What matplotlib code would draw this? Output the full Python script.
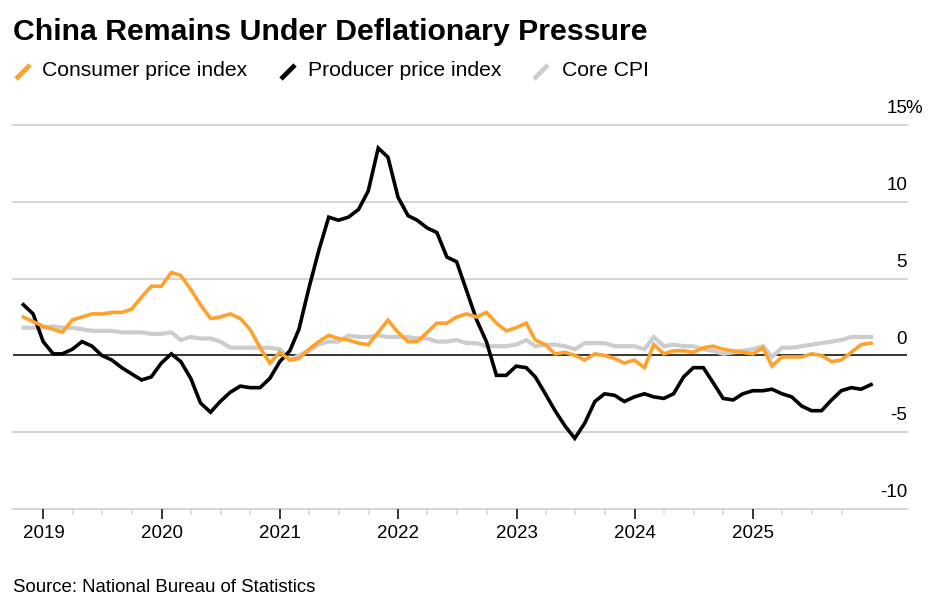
import matplotlib
matplotlib.use("Agg")
import matplotlib.pyplot as plt
import matplotlib.dates as mdates
import matplotlib.transforms as mtransforms
from matplotlib.lines import Line2D
from matplotlib.ticker import FixedLocator
import pandas as pd
import datetime as dt

plt.rcParams['font.family'] = ['Liberation Sans', 'DejaVu Sans']

# ---- data (monthly, Oct 2018 - Dec 2025, YoY %) ----
start_month = "2018-10"

cpi = [2.5, 2.2, 1.9,
       1.7, 1.5, 2.3, 2.5, 2.7, 2.7, 2.8, 2.8, 3.0, 3.8, 4.5, 4.5,
       5.4, 5.2, 4.3, 3.3, 2.4, 2.5, 2.7, 2.4, 1.7, 0.5, -0.5, 0.2,
       -0.3, -0.2, 0.4, 0.9, 1.3, 1.1, 1.0, 0.8, 0.7, 1.5, 2.3, 1.5,
       0.9, 0.9, 1.5, 2.1, 2.1, 2.5, 2.7, 2.5, 2.8, 2.1, 1.6, 1.8,
       2.1, 1.0, 0.7, 0.1, 0.2, 0.0, -0.3, 0.1, 0.0, -0.2, -0.5, -0.3,
       -0.8, 0.7, 0.1, 0.3, 0.3, 0.2, 0.5, 0.6, 0.4, 0.3, 0.2, 0.1,
       0.5, -0.7, -0.1, -0.1, -0.1, 0.1, 0.0, -0.4, -0.3, 0.2, 0.7, 0.8]

ppi = [3.3, 2.7, 0.9,
       0.1, 0.1, 0.4, 0.9, 0.6, 0.0, -0.3, -0.8, -1.2, -1.6, -1.4, -0.5,
       0.1, -0.4, -1.5, -3.1, -3.7, -3.0, -2.4, -2.0, -2.1, -2.1, -1.5, -0.4,
       0.3, 1.7, 4.4, 6.8, 9.0, 8.8, 9.0, 9.5, 10.7, 13.5, 12.9, 10.3,
       9.1, 8.8, 8.3, 8.0, 6.4, 6.1, 4.2, 2.3, 0.9, -1.3, -1.3, -0.7,
       -0.8, -1.4, -2.5, -3.6, -4.6, -5.4, -4.4, -3.0, -2.5, -2.6, -3.0, -2.7,
       -2.5, -2.7, -2.8, -2.5, -1.4, -0.8, -0.8, -1.8, -2.8, -2.9, -2.5, -2.3,
       -2.3, -2.2, -2.5, -2.7, -3.3, -3.6, -3.6, -2.9, -2.3, -2.1, -2.2, -1.9]

core_cpi = [1.8, 1.8, 1.8,
            1.9, 1.8, 1.8, 1.7, 1.6, 1.6, 1.6, 1.5, 1.5, 1.5, 1.4, 1.4,
            1.5, 1.0, 1.2, 1.1, 1.1, 0.9, 0.5, 0.5, 0.5, 0.5, 0.5, 0.4,
            -0.3, 0.0, 0.3, 0.7, 0.9, 0.9, 1.3, 1.2, 1.2, 1.3, 1.2, 1.2,
            1.2, 1.1, 1.1, 0.9, 0.9, 1.0, 0.8, 0.8, 0.6, 0.6, 0.6, 0.7,
            1.0, 0.6, 0.7, 0.7, 0.6, 0.4, 0.8, 0.8, 0.8, 0.6, 0.6, 0.6,
            0.4, 1.2, 0.6, 0.7, 0.6, 0.6, 0.4, 0.3, 0.1, 0.2, 0.3, 0.4,
            0.6, -0.1, 0.5, 0.5, 0.6, 0.7, 0.8, 0.9, 1.0, 1.2, 1.2, 1.2]

series_names = ["Consumer price index", "Producer price index", "Core CPI"]
y_ticks = [15, 10, 5, 0, -5, -10]
year_ticks = [2019, 2020, 2021, 2022, 2023, 2024, 2025]

dates = pd.date_range(start=start_month, periods=len(cpi), freq="ME")

# ---- styling ----
ORANGE = "#FFA12B"
BLACK = "#000000"
GRAY = "#CCCCCC"
GRID = "#D4D4D4"

W, H = 951, 609
fig = plt.figure(figsize=(W / 100, H / 100), dpi=100)

def px_x(x):
    return x / W

def px_y(y):
    return 1 - y / H

ax_left, ax_right, ax_top, ax_bottom = 12.7, 907, 125, 509
ax = fig.add_axes([px_x(ax_left), px_y(ax_bottom),
                   (ax_right - ax_left) / W, (ax_bottom - ax_top) / H])

for s in ax.spines.values():
    s.set_visible(False)

# gridlines
for v in y_ticks:
    if v == 0:
        continue
    ax.axhline(v, color=GRID, lw=1.4, zorder=1, clip_on=False)
ax.axhline(0, color=BLACK, lw=1.1, zorder=2)

ax.plot(dates, core_cpi, color=GRAY, lw=3.0, zorder=3, solid_joinstyle='miter')
ax.plot(dates, ppi, color=BLACK, lw=2.6, zorder=4, solid_joinstyle='miter')
ax.plot(dates, cpi, color=ORANGE, lw=2.6, zorder=5, solid_joinstyle='miter')

ax.set_ylim(-10, 15)
ax.set_xlim(mdates.date2num(dt.datetime(2018, 9, 28)),
            mdates.date2num(dt.datetime(2026, 4, 21)))

# x ticks
ax.set_xticks([mdates.date2num(dt.datetime(y, 1, 1)) for y in year_ticks])
ax.set_xticklabels([str(y) for y in year_ticks])
minor_locs = [mdates.date2num(dt.datetime(y, m, 1))
              for y in year_ticks for m in (4, 7, 10)]
ax.xaxis.set_minor_locator(FixedLocator(minor_locs))
ax.tick_params(axis='x', which='major', length=7.5, width=1.1, color=BLACK,
               labelsize=13.5, pad=4, labelcolor=BLACK)
ax.tick_params(axis='x', which='minor', length=4, width=1.1, color=GRID)
ax.tick_params(axis='y', left=False, right=False, labelleft=False, labelright=False)

# y labels above gridlines, right aligned
trans = mtransforms.blended_transform_factory(ax.transAxes, ax.transData)
for v in y_ticks:
    ax.annotate(str(v), xy=(1.0, v), xycoords=trans, xytext=(0, 8.5),
                textcoords='offset points', ha='right', va='baseline',
                fontsize=13.5, color=BLACK, annotation_clip=False)
    if v == max(y_ticks):
        ax.annotate("%", xy=(1.0, v), xycoords=trans, xytext=(-1, 8.5),
                    textcoords='offset points', ha='left', va='baseline',
                    fontsize=13.5, color=BLACK, annotation_clip=False)

# title
fig.text(px_x(13), px_y(40), "China Remains Under Deflationary Pressure",
         fontsize=21.8, fontweight='bold', ha='left', va='baseline', color=BLACK)

# legend
legend_items = [(ORANGE, 15, 42), (BLACK, 280, 308), (GRAY, 533, 562)]
for (col, lx, tx), name in zip(legend_items, series_names):
    fig.add_artist(Line2D([px_x(lx + 1), px_x(lx + 15)], [px_y(79), px_y(65)],
                          transform=fig.transFigure, color=col, lw=3.4,
                          solid_capstyle='butt'))
    fig.text(px_x(tx), px_y(76.5), name, fontsize=15.2, ha='left',
             va='baseline', color=BLACK)

# source
fig.text(px_x(13), px_y(592), "Source: National Bureau of Statistics",
         fontsize=13.4, ha='left', va='baseline', color=BLACK)

fig.savefig("out.png", dpi=100)
